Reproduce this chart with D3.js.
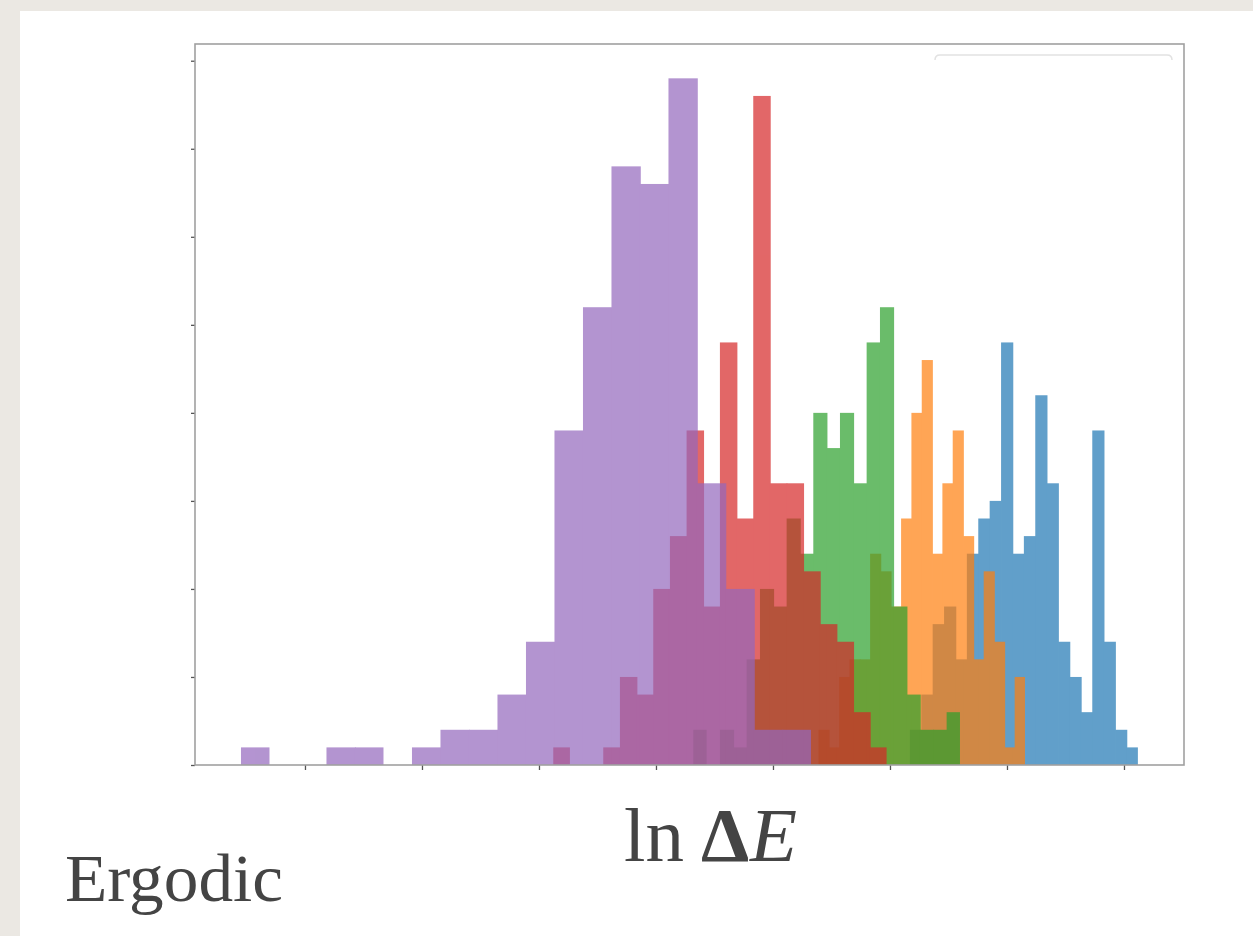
<!DOCTYPE html>
<html>
<head>
<meta charset="utf-8">
<script src="https://cdn.jsdelivr.net/npm/d3@7"></script>
<style>
  html, body { margin: 0; padding: 0; background: #ebe8e3; }
  svg { display: block; }
</style>
</head>
<body>
<svg id="chart" width="1253" height="936"></svg>
<script>
// ---- data ----
const seriesNames = ["C0", "C1", "C2", "C3", "C4"];
const seriesColors = ["#1f77b4", "#ff7f0e", "#2ca02c", "#d62728", "#9467bd"];
// histogram bins: first edge and bin width in ln(ΔE) units, 20 bins each
const binStart = [-3.830, -4.611, -5.681, -6.878, -9.547];
const binWidth = [0.09744, 0.08825, 0.11396, 0.14245, 0.24359];
const countsBlue   = [2, 4, 8, 9, 6, 12, 14, 15, 24, 12, 13, 21, 16, 7, 5, 3, 19, 7, 2, 1];
const countsOrange = [2, 1, 5, 6, 6, 12, 11, 9, 14, 20, 23, 12, 16, 19, 13, 6, 11, 7, 1, 5];
const countsGreen  = [2, 0, 2, 1, 6, 10, 9, 14, 12, 20, 18, 20, 16, 24, 26, 9, 4, 2, 2, 3];
const countsRed    = [1, 0, 0, 1, 5, 4, 10, 13, 19, 9, 24, 14, 38, 16, 16, 11, 8, 7, 3, 1];
const countsPurple = [1, 0, 0, 1, 1, 0, 1, 2, 2, 4, 7, 19, 26, 34, 33, 39, 16, 10, 2, 2];
const allCounts = [countsBlue, countsOrange, countsGreen, countsRed, countsPurple];
const xTicks = [-9, -8, -7, -6, -5, -4, -3, -2];
const yTicks = [0, 5, 10, 15, 20, 25, 30, 35, 40];
const xDomain = [-9.94, -1.487];
const yDomain = [0, 40.95];
const xLabelParts = ["ln", "Δ", "E"];
const panelTitle = "Ergodic";

// ---- layout ----
const W = 1253, H = 936;
const plot = { left: 195, right: 1184, top: 44, bottom: 765 };
const svg = d3.select("#chart");

// white card
svg.append("rect").attr("x", 20).attr("y", 11).attr("width", W - 20).attr("height", H - 11).attr("fill", "#ffffff");

const x = d3.scaleLinear().domain(xDomain).range([plot.left, plot.right]);
const y = d3.scaleLinear().domain(yDomain).range([plot.bottom, plot.top]);

// legend frame remnant (top edge)
svg.append("path")
  .attr("d", "M935,60 Q935,55 940,55 L1167,55 Q1172,55 1172,60")
  .attr("fill", "none").attr("stroke", "#e2e2e2").attr("stroke-width", 1.5);

// histograms
svg.append("clipPath").attr("id", "clip")
  .append("rect").attr("x", plot.left).attr("y", plot.top)
  .attr("width", plot.right - plot.left).attr("height", plot.bottom - plot.top);

const histLayer = svg.append("g").attr("clip-path", "url(#clip)");
allCounts.forEach((counts, si) => {
  const bins = counts.map((c, i) => ({
    x0: binStart[si] + i * binWidth[si],
    x1: binStart[si] + (i + 1) * binWidth[si],
    c: c,
    last: i === counts.length - 1 || counts[i + 1] === 0
  }));
  histLayer.append("g")
    .attr("class", "hist-" + seriesNames[si])
    .attr("opacity", 0.7)
    .selectAll("rect").data(bins.filter(b => b.c > 0)).join("rect")
    .attr("x", d => x(d.x0))
    // slight overlap with the next bar inside the (opaque) group hides seams
    .attr("width", d => x(d.x1) - x(d.x0) + (d.last ? 0 : 0.8))
    .attr("y", d => y(d.c))
    .attr("height", d => y(0) - y(d.c))
    .attr("fill", seriesColors[si]);
});

// axes
const xAxis = svg.append("g").attr("transform", `translate(0,${plot.bottom})`)
  .call(d3.axisBottom(x).tickValues(xTicks).tickFormat("").tickSize(5).tickSizeOuter(0));
const yAxis = svg.append("g").attr("transform", `translate(${plot.left},0)`)
  .call(d3.axisLeft(y).tickValues(yTicks).tickFormat("").tickSize(4).tickSizeOuter(0));
[xAxis, yAxis].forEach(a => {
  a.select(".domain").remove();
  a.selectAll(".tick line").attr("stroke", "#555").attr("stroke-width", 1.3);
});

// frame
svg.append("rect")
  .attr("x", plot.left).attr("y", plot.top)
  .attr("width", plot.right - plot.left).attr("height", plot.bottom - plot.top)
  .attr("fill", "none").attr("stroke", "#a0a0a0").attr("stroke-width", 1.6);

// x label
const lab = svg.append("text")
  .attr("y", 861)
  .attr("font-family", "'Liberation Serif', 'DejaVu Serif', serif")
  .attr("font-size", 77).attr("fill", "#444");
lab.append("tspan").attr("x", 624).text(xLabelParts[0]);
lab.append("tspan").attr("x", 701).attr("font-weight", "bold").text(xLabelParts[1]);
lab.append("tspan").attr("x", 750).attr("font-style", "italic").text(xLabelParts[2]);

// panel title
svg.append("text")
  .attr("x", 65).attr("y", 901)
  .attr("font-family", "'Liberation Serif', 'DejaVu Serif', serif")
  .attr("font-size", 68).attr("fill", "#444")
  .attr("textLength", 218).attr("lengthAdjust", "spacingAndGlyphs")
  .text(panelTitle);
</script>
</body>
</html>
